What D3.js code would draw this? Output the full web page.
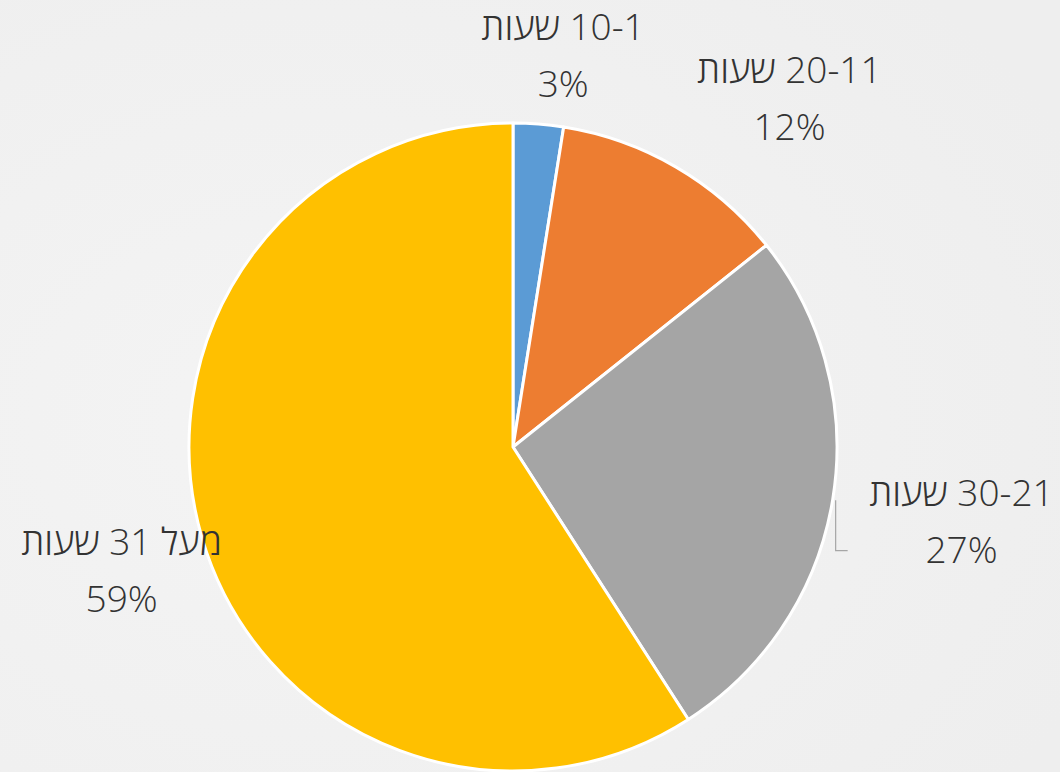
<!DOCTYPE html>
<html lang="he">
<head>
    <meta charset="UTF-8">
    <title>Pie Chart</title>

    <script src="https://d3js.org/d3.v7.min.js"></script>

    <style>
        html, body {
            margin: 0;
            padding: 0;
        }

        svg {
            display: block;
        }

        .label {
            font-family: "Open Sans", "Liberation Sans", sans-serif;
            font-size: 37px;
            font-weight: 300;
            fill: #333333;
        }
    </style>

    <script>

        const CATEGORIES = ["10-1 שעות", "20-11 שעות", "30-21 שעות", "מעל 31 שעות"];
        const VALUES = [2.5, 11.8, 26.6, 59.1];
        const COLORS = ["#5b9bd5", "#ed7d31", "#a5a5a5", "#ffc000"];

        // label nudges off the arc centroid (excel "best fit" placement)
        const LABEL_NUDGE = [[18, 19], [70, 7], [44, 9], [2, 9]];

        document.addEventListener("DOMContentLoaded", () => makeGraph());

        function makeGraph() {

            const width = 1060;
            const height = 772;
            const cx = 513;
            const cy = 447;
            const radius = 324;

            const svg = d3.select("svg")
                .attr("width", width)
                .attr("height", height);

            const grad = svg.append("defs").append("radialGradient")
                .attr("id", "bg")
                .attr("cx", "30%").attr("cy", "55%").attr("r", "80%");
            grad.append("stop").attr("offset", "0%").attr("stop-color", "#f4f4f4");
            grad.append("stop").attr("offset", "100%").attr("stop-color", "#eeeeee");

            svg.append("rect")
                .attr("width", width)
                .attr("height", height)
                .attr("fill", "url(#bg)");

            const total = d3.sum(VALUES);
            const data = VALUES.map((v, i) => ({name: CATEGORIES[i], value: v, i: i}));

            const pie = d3.pie().value(d => d.value).sort(null);
            const arc = d3.arc().innerRadius(0).outerRadius(radius);
            const labelArc = d3.arc().innerRadius(410).outerRadius(410);

            const g = svg.append("g").attr("transform", "translate(" + cx + "," + cy + ")");

            const arcs = pie(data);

            g.selectAll("path.slice")
                .data(arcs)
                .enter()
                .append("path")
                .attr("class", "slice")
                .attr("d", arc)
                .attr("fill", d => COLORS[d.data.i])
                .attr("stroke", "#ffffff")
                .attr("stroke-width", 3)
                .attr("stroke-linejoin", "round");

            const labels = g.selectAll("g.lbl")
                .data(arcs)
                .enter()
                .append("g")
                .attr("class", "lbl")
                .attr("transform", function(d) {
                    const c = labelArc.centroid(d);
                    const n = LABEL_NUDGE[d.data.i];
                    return "translate(" + (c[0] + n[0]) + "," + (c[1] + n[1]) + ")";
                });

            labels.append("text")
                .attr("class", "label")
                .attr("text-anchor", "middle")
                .attr("direction", "rtl")
                .attr("y", -17)
                .text(d => d.data.name);

            labels.append("text")
                .attr("class", "label")
                .attr("text-anchor", "middle")
                .attr("y", 40)
                .text(d => Math.round(d.data.value / total * 100) + "%");

            // leader line for the gray slice label
            const grayArc = arcs[2];
            const start = d3.arc().innerRadius(radius + 3).outerRadius(radius + 3).centroid(grayArc);
            const lc = labelArc.centroid(grayArc);
            const bendY = lc[1] + LABEL_NUDGE[2][1] + 28;
            g.append("path")
                .attr("d", "M" + start[0] + "," + start[1]
                    + " L" + start[0] + "," + bendY
                    + " L" + (start[0] + 12) + "," + bendY)
                .attr("fill", "none")
                .attr("stroke", "#a6a6a6")
                .attr("stroke-width", 1.2);
        }

    </script>

</head>
<body>
    <svg id="graph"></svg>
</body>
</html>
